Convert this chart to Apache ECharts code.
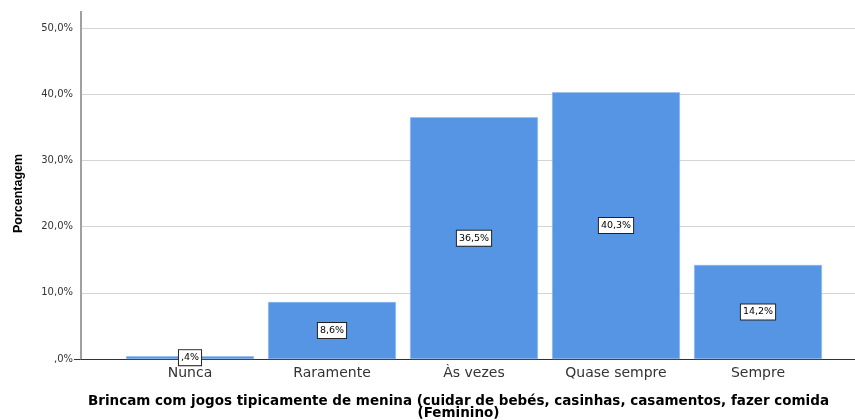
<!DOCTYPE html>
<html>
<head>
<meta charset="utf-8">
<script src="https://cdn.jsdelivr.net/npm/echarts@6/dist/echarts.min.js"></script>
<style>
  html, body { margin: 0; padding: 0; background: #fff; }
  #chart { width: 855px; height: 420px; }
</style>
</head>
<body>
<div id="chart"></div>
<script>
// Response categories and percentages
const categories = ['Nunca', 'Raramente', 'Às vezes', 'Quase sempre', 'Sempre'];
const percentages = [0.4, 8.6, 36.5, 40.3, 14.2];
const yTicks = [0, 10, 20, 30, 40, 50];

const FONT = '"Liberation Sans", Arial, sans-serif';
const WIDE_FONT = '"DejaVu Sans", "Liberation Sans", sans-serif';
const BAR_COLOR = '#5595e3';

const fmtPct = v => {
  const s = v.toFixed(1).replace('.', ',');
  return (s.startsWith('0,') ? s.slice(1) : s) + '%';
};

const chart = echarts.init(document.getElementById('chart'));

const yMax = yTicks[yTicks.length - 1];
const yInterval = yTicks[1] - yTicks[0];

chart.setOption({
  animation: false,
  textStyle: { fontFamily: FONT },
  grid: [
    // frame: y axis, gridlines and baseline across the full width
    { left: 81, right: 0, top: 28, bottom: 61, containLabel: false, outerBoundsMode: 'none' },
    // bars, inset from the frame
    { left: 119, width: 710, top: 28, bottom: 61, containLabel: false, outerBoundsMode: 'none' }
  ],
  xAxis: [
    {
      gridIndex: 0, type: 'value', min: 0, max: 1,
      axisLine: { show: true, onZero: false, lineStyle: { color: '#333', width: 1 } },
      axisTick: { show: false }, axisLabel: { show: false }, splitLine: { show: false }
    },
    {
      gridIndex: 1, type: 'category', data: categories,
      axisLine: { show: false }, axisTick: { show: false },
      axisLabel: { color: '#333', fontSize: 14, margin: 7, fontFamily: WIDE_FONT },
      name: 'Brincam com jogos tipicamente de menina (cuidar de bebés, casinhas, casamentos, fazer comida\n(Feminino)',
      nameLocation: 'middle', nameGap: 36,
      nameTextStyle: {
        color: '#000', fontSize: 13.5, fontWeight: 'bold', lineHeight: 12,
        fontFamily: WIDE_FONT, padding: [0, 31, 0, 0]
      }
    }
  ],
  yAxis: [
    {
      gridIndex: 0, type: 'value', min: 0, max: yMax, interval: yInterval,
      axisLine: { show: true, lineStyle: { color: '#a0a0a0', width: 2 } },
      axisTick: { show: false },
      axisLabel: { color: '#333', fontSize: 10, margin: 8, fontFamily: WIDE_FONT, formatter: v => fmtPct(v) },
      splitLine: { show: true, lineStyle: { color: '#d4d4d4', width: 1 } },
      name: 'Porcentagem', nameLocation: 'middle', nameGap: 56, nameRotate: 90,
      nameTextStyle: { color: '#000', fontSize: 12.5, fontWeight: 'bold' }
    },
    {
      gridIndex: 1, type: 'value', min: 0, max: yMax, interval: yInterval,
      show: false, splitLine: { show: false }
    }
  ],
  graphic: [
    // axis line continues a little above the top gridline
    { type: 'line', shape: { x1: 81, y1: 11, x2: 81, y2: 28 }, style: { stroke: '#a0a0a0', lineWidth: 2 } },
    // tick at zero
    { type: 'line', shape: { x1: 74, y1: 359.5, x2: 81, y2: 359.5 }, style: { stroke: '#333', lineWidth: 1 } }
  ],
  series: [{
    type: 'bar',
    xAxisIndex: 1, yAxisIndex: 1,
    data: percentages,
    barCategoryGap: '10%',
    itemStyle: { color: BAR_COLOR, borderColor: '#8fb8ee', borderWidth: 0.5 },
    label: {
      show: true, position: 'inside',
      formatter: p => fmtPct(p.value),
      color: '#000', fontSize: 9.5, fontFamily: WIDE_FONT,
      backgroundColor: '#fff', borderColor: '#222', borderWidth: 1,
      padding: [3, 2, 2, 2]
    },
    z: 3
  }]
});
</script>
</body>
</html>
